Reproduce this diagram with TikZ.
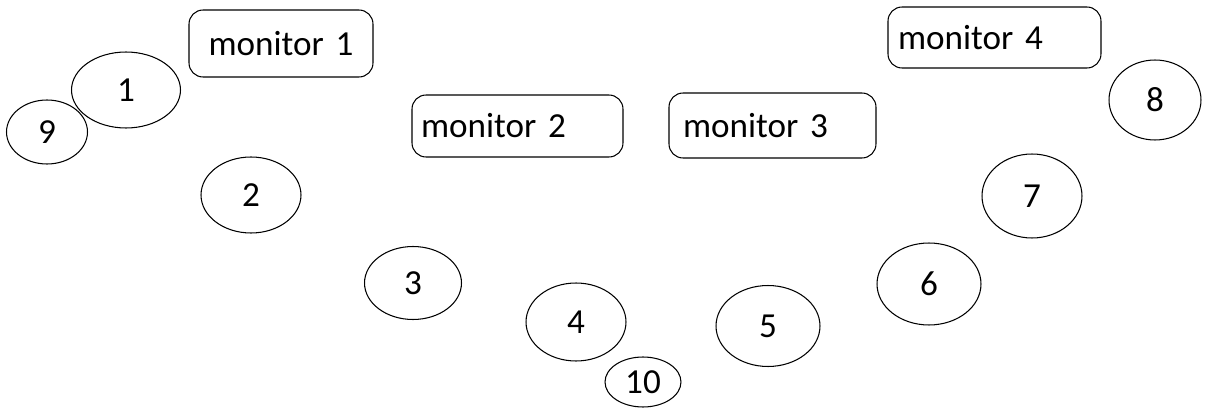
\documentclass[tikz,border=0pt]{standalone}
\usepackage{fontspec}
\setmainfont{Carlito}
\usetikzlibrary{shapes.geometric}

\begin{document}
\begin{tikzpicture}[x=0.02cm,y=-0.02cm,line width=0.6pt,
font=\fontsize{20pt}{24pt}\selectfont,
seat/.style={ellipse,draw,inner sep=0pt},
monitor/.style={draw,rounded corners=0.28cm,inner ysep=0pt,align=left}]

\useasboundingbox (0,0) rectangle (1205,412);

% seats
\node[seat,minimum width=2.18cm,minimum height=1.52cm] (1) at (126,90) {1};
\node[seat,minimum width=2.0cm,minimum height=1.52cm] (2) at (251,195) {2};
\node[seat,minimum width=1.94cm,minimum height=1.46cm] (3) at (413,283) {3};
\node[seat,minimum width=2.0cm,minimum height=1.56cm] (4) at (576,322) {4};
\node[seat,minimum width=2.08cm,minimum height=1.62cm] (5) at (768,326) {5};
\node[seat,minimum width=2.08cm,minimum height=1.64cm] (6) at (929,284) {6};
\node[seat,minimum width=2.0cm,minimum height=1.68cm] (7) at (1032,196) {7};
\node[seat,minimum width=1.84cm,minimum height=1.6cm] (8) at (1155,100) {8};
\node[seat,minimum width=1.62cm,minimum height=1.28cm] (9) at (47,132) {9};
\node[seat,minimum width=1.52cm,minimum height=1.0cm] (10) at (643,382) {10};

% monitors
\node[monitor,align=center,inner xsep=0.18cm,text width=3.32cm,minimum height=1.34cm] (m1) at (281,43.5) {monitor 1};
\node[monitor,inner xsep=0.18cm,text width=3.86cm,minimum height=1.24cm] (m2) at (517.5,126) {monitor 2};
\node[monitor,inner xsep=0.28cm,text width=3.58cm,minimum height=1.3cm] (m3) at (772.5,125.5) {monitor 3};
\node[monitor,inner xsep=0.2cm,text width=3.86cm,minimum height=1.22cm] (m4) at (994.5,37.5) {monitor 4};
\end{tikzpicture}
\end{document}
